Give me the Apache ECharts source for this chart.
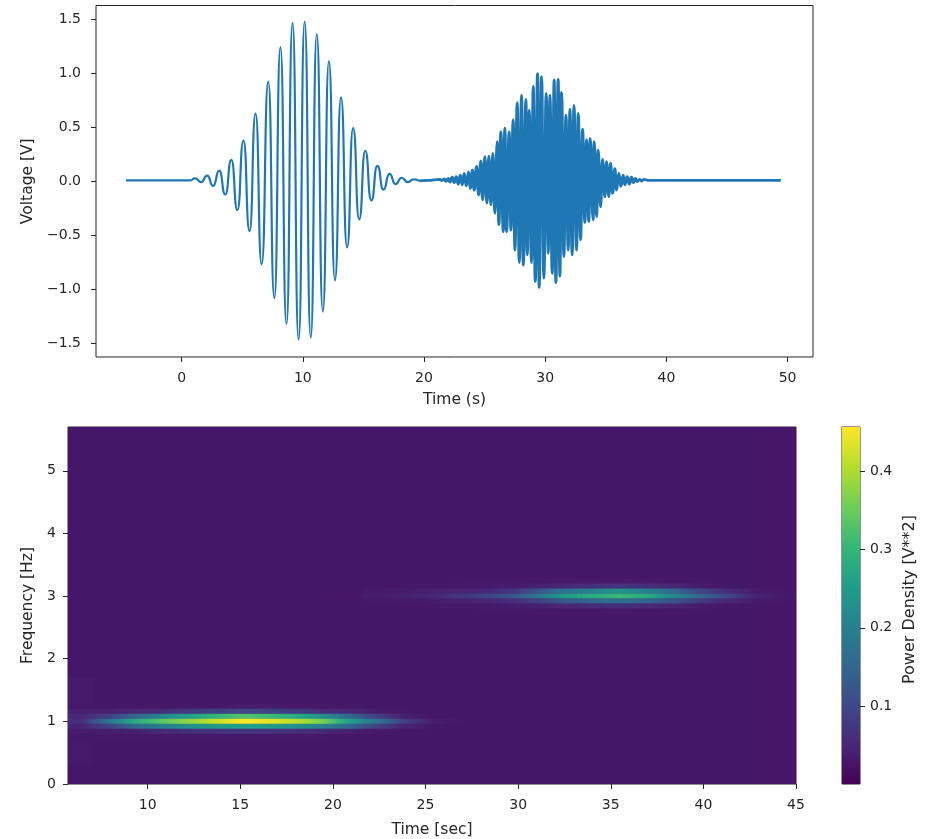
<!DOCTYPE html>
<html><head><meta charset="utf-8">
<style>html,body{margin:0;padding:0;background:#fff}#c{width:930px;height:839px}#c canvas{filter:blur(0.5px)}</style>
<script src="https://cdn.jsdelivr.net/npm/echarts@6/dist/echarts.min.js"></script>
</head><body><div id="c"></div>
<script>
// --- Voltage trace: crests and troughs ---
const leadT = [-4.6, -2, 0, 0.7];
const leadV = [0.005, 0.005, 0.005, 0.005];
const lowBurstT = [1.1,1.6,2.1,2.6,3.1,3.6,4.1,4.6,5.1,5.6,6.1,6.6,7.15,7.65,8.15,8.65,9.15,9.65,10.15,10.65,11.15,11.65,12.15,12.65,13.15,13.65,14.15,14.65,15.15,15.65,16.15,16.65,17.15,17.65,18.15,18.65,19.15,19.6];
const lowBurstV = [.025,-.01,.05,-.045,.095,-.125,.195,-.27,.375,-.465,.625,-.77,.92,-1.085,1.24,-1.325,1.465,-1.47,1.475,-1.45,1.36,-1.21,1.11,-.92,.775,-.615,.49,-.355,.28,-.18,.14,-.08,.065,-.03,.03,-.01,.015,0];
const highBurstT = [19.6,20.3,21.31,21.48,21.67,21.81,22,22.14,22.33,22.49,22.66,22.82,22.99,23.15,23.32,23.48,23.68,23.81,24,24.14,24.34,24.5,24.69,24.83,25.02,25.19,25.35,25.52,25.68,25.85,26.04,26.18,26.34,26.54,26.67,26.81,27.03,27.17,27.36,27.5,27.69,27.86,28.05,28.19,28.41,28.52,28.68,28.87,29.01,29.18,29.37,29.5,29.7,29.89,30.08,30.25,30.39,30.58,30.74,30.88,31.07,31.21,31.35,31.54,31.71,31.9,32.04,32.23,32.37,32.59,32.72,32.92,33.08,33.27,33.41,33.6,33.71,33.96,34.04,34.24,34.37,34.57,34.73,34.92,35.06,35.25,35.39,35.56,35.75,35.89,36.08,36.24,36.44,36.57,36.77,36.93,37.12,37.26,37.45,37.59,37.81,37.95,38.14];
const highBurstV = [0,.005,.015,.003,.02,-.003,.025,-.01,.035,-.015,.04,-.03,.055,-.035,.07,-.045,.085,-.07,.10,-.085,.135,-.13,.185,-.175,.225,-.205,.23,-.22,.255,-.30,.365,-.405,.455,-.47,.49,-.47,.455,-.455,.565,-.64,.725,-.755,.795,-.78,.755,-.685,.655,-.755,.875,-.93,.995,-.985,.965,-.90,.81,-.67,.795,-.855,.935,-.94,.94,-.88,.82,-.70,.61,-.64,.665,-.685,.70,-.64,.625,-.545,.48,-.385,.38,-.375,.395,-.36,.365,-.33,.285,-.24,.20,-.145,.18,-.145,.165,-.115,.115,-.085,.07,-.05,.055,-.035,.04,-.03,.035,-.015,.025,-.006,.015,0,.015];
const tailT = [38.6, 40, 45, 49.45];
const tailV = [0.005, 0.005, 0.005, 0.005];

// --- Spectrogram: power read by colour, per frequency row ---
const backgroundPower = 0.028;
const lowBandTimes = [6.4,7.9,9.3,10.8,12.2,13.7,15.1,16.6,18,19.5,20.9,22.4,23.8,25.3,26.7];
const lowBandFreqs = [1.24,1.16,1.08,1.0,0.92,0.84,0.76];
const lowRow124 = [.03,.03,.03,.03,.03,.03,.035,.035,.03,.03,.03,.03,.028,.028,.028];
const lowRow116 = [.04,.04,.05,.06,.08,.09,.10,.09,.08,.06,.05,.035,.03,.028,.028];
const lowRow108 = [.05,.09,.15,.21,.26,.30,.33,.31,.28,.23,.15,.09,.04,.03,.028];
const lowRow100 = [.06,.18,.28,.34,.38,.42,.455,.44,.41,.36,.26,.18,.09,.04,.03];
const lowRow092 = [.045,.09,.15,.20,.23,.25,.26,.25,.23,.20,.15,.09,.045,.03,.028];
const lowRow084 = [.035,.035,.04,.05,.06,.065,.07,.065,.06,.05,.04,.03,.03,.028,.028];
const lowRow076 = [.03,.03,.03,.03,.03,.03,.03,.03,.03,.03,.028,.028,.028,.028,.028];
const highBandTimes = [22.4,23.8,25.3,26.7,28.2,29.6,31.1,32.5,34,35.4,36.9,38.3,39.8,41.2,42.7,44.1];
const highBandFreqs = [3.24,3.16,3.08,3.0,2.92,2.84,2.76];
const highRow324 = [.028,.028,.028,.03,.03,.03,.03,.032,.032,.032,.032,.03,.03,.028,.028,.028];
const highRow316 = [.028,.03,.03,.03,.032,.035,.04,.05,.06,.07,.06,.05,.035,.03,.028,.028];
const highRow308 = [.032,.035,.04,.045,.05,.07,.12,.18,.20,.24,.20,.16,.10,.06,.035,.03];
const highRow300 = [.035,.04,.05,.07,.09,.12,.18,.25,.28,.31,.28,.22,.15,.10,.05,.032];
const highRow292 = [.03,.032,.035,.04,.045,.06,.09,.13,.15,.17,.15,.12,.08,.05,.035,.03];
const highRow284 = [.028,.028,.03,.03,.032,.035,.04,.05,.055,.06,.055,.045,.035,.03,.03,.028];
const highRow276 = [.028,.028,.028,.028,.03,.03,.03,.03,.03,.032,.03,.03,.03,.028,.028,.028];
// Faint regions: [tStart, tEnd, fStart, fEnd, power]
const faintPatches = [[5.7,7.1,1.28,1.7,.033],[5.7,7.1,0.3,0.72,.031]];

// --- Tick labels ---
const topXTicks = [0,10,20,30,40,50];
const topYTicks = [-1.5,-1,-0.5,0,0.5,1,1.5];
const heatXTicks = [10,15,20,25,30,35,40,45];
const heatYTicks = [0,1,2,3,4,5];
const barTicks = [0.1,0.2,0.3,0.4];
const viridis = ['#440154','#482878','#3e4989','#31688e','#26828e','#1f9e89','#35b779','#6ece58','#b5de2b','#fde725'];
const powerMax = 0.457;

const pair=(ts,vs)=>ts.map((t,i)=>[t,vs[i]]);
const lowTrace = pair(leadT.concat(lowBurstT), leadV.concat(lowBurstV));
const highTrace = pair(highBurstT.concat(tailT), highBurstV.concat(tailV));

const cells = [[5.7,45,0,5.7,backgroundPower,backgroundPower,backgroundPower]]
  .concat(faintPatches.map(p=>[p[0],p[1],p[2],p[3],p[4],p[4],p[4]]));
function addBand(times,freqs,rows){
  freqs.forEach((f,r)=>times.forEach((t,c)=>{
    const row=rows[r], v=row[c];
    const prev=c>0?row[c-1]:v, next=c<row.length-1?row[c+1]:backgroundPower;
    const left=c>0?(times[c-1]+t)/2:t-0.75, right=c<times.length-1?(times[c+1]+t)/2:t+0.75;
    cells.push([left-0.02,right+0.02,f-0.041,f+0.041,v,(v+prev)/2,(v+next)/2]);
  }));
}
addBand(lowBandTimes,lowBandFreqs,[lowRow124,lowRow116,lowRow108,lowRow100,lowRow092,lowRow084,lowRow076]);
addBand(highBandTimes,highBandFreqs,[highRow324,highRow316,highRow308,highRow300,highRow292,highRow284,highRow276]);

const txt='#262626', fs=14, nfs=15.5, ff='"DejaVu Sans"';
const tone=(v)=>echarts.color.lerp(Math.min(1,v/powerMax),viridis);
const lab=(vals,fmt,m)=>({customValues:vals,color:txt,fontSize:fs,fontFamily:ff,margin:m,formatter:fmt});
const tick=(vals)=>({show:true,customValues:vals,length:5,lineStyle:{color:txt,width:1}});
const line={show:false,onZero:false};
const nameS={color:txt,fontSize:nfs,fontFamily:ff};
const minus=(d)=>(v)=>v.toFixed(d).replace('-','\u2212');
const rectItem=(p,api)=>{
  const a=api.coord([api.value(0),api.value(3)]), b=api.coord([api.value(1),api.value(2)]);
  const v=api.value(4), l=api.value(5), r=api.value(6);
  return {type:'rect',shape:{x:a[0],y:a[1],width:b[0]-a[0],height:b[1]-a[1]},
    style:{fill:new echarts.graphic.LinearGradient(0,0,1,0,[{offset:0,color:tone(l)},{offset:0.5,color:tone(v)},{offset:1,color:tone(r)}])}};
};
const chart=echarts.init(document.getElementById('c'),null,{renderer:'canvas'});
chart.setOption({
  animation:false,backgroundColor:'#fff',
  grid:[
    {left:96,top:5.5,width:717,height:351.5,show:true,borderColor:txt,borderWidth:1,outerBoundsMode:'none'},
    {left:68,top:427,width:728,height:357,show:true,borderColor:txt,borderWidth:1,outerBoundsMode:'none'},
    {left:842,top:427,width:18,height:357,show:true,borderColor:txt,borderWidth:1,outerBoundsMode:'none'}
  ],
  xAxis:[
    {gridIndex:0,type:'value',min:-7.07,max:52.1,splitLine:{show:false},axisLine:line,axisTick:tick(topXTicks),axisLabel:lab(topXTicks,minus(0),14),
     name:'Time (s)',nameLocation:'middle',nameGap:35,nameTextStyle:nameS},
    {gridIndex:1,type:'value',min:5.7,max:45,splitLine:{show:false},axisLine:line,axisTick:tick(heatXTicks),axisLabel:lab(heatXTicks,minus(0),14),
     name:'Time [sec]',nameLocation:'middle',nameGap:38,nameTextStyle:nameS},
    {gridIndex:2,type:'value',min:0,max:1,show:false}
  ],
  yAxis:[
    {gridIndex:0,type:'value',min:-1.63,max:1.625,splitLine:{show:false},axisLine:line,axisTick:tick(topYTicks),axisLabel:lab(topYTicks,minus(1),15),
     name:'Voltage [V]',nameLocation:'middle',nameRotate:90,nameGap:60,nameTextStyle:nameS},
    {gridIndex:1,type:'value',min:0,max:5.7,splitLine:{show:false},axisLine:line,axisTick:tick(heatYTicks),axisLabel:lab(heatYTicks,minus(0),12),
     name:'Frequency [Hz]',nameLocation:'middle',nameRotate:90,nameGap:32,nameTextStyle:nameS},
    {gridIndex:2,type:'value',position:'right',min:0,max:powerMax,splitLine:{show:false},axisLine:line,axisTick:tick(barTicks),axisLabel:lab(barTicks,minus(1),10),
     name:'Power Density [V**2]',nameLocation:'middle',nameRotate:90,nameGap:42,
     nameTextStyle:{color:txt,fontSize:16,fontFamily:ff,padding:[0,0,0,12]}}
  ],
  series:[
    {type:'line',xAxisIndex:0,yAxisIndex:0,data:lowTrace,showSymbol:false,smooth:0.6,smoothMonotone:'x',sampling:null,
     lineStyle:{color:'#1f77b4',width:2.2},itemStyle:{color:'#1f77b4'}},
    {type:'custom',xAxisIndex:1,yAxisIndex:1,data:cells,encode:{x:[0,1],y:[2,3]},renderItem:rectItem,clip:true},
    {type:'custom',xAxisIndex:2,yAxisIndex:2,data:[[0,1,0,powerMax]],encode:{x:[0,1],y:[2,3]},clip:true,
     renderItem:(p,api)=>{
       const a=api.coord([api.value(0),api.value(3)]), b=api.coord([api.value(1),api.value(2)]);
       return {type:'rect',shape:{x:a[0],y:a[1],width:b[0]-a[0],height:b[1]-a[1]},
         style:{fill:new echarts.graphic.LinearGradient(0,1,0,0,viridis.map((c,i)=>({offset:i/(viridis.length-1),color:c})))}};
     }},
    {type:'line',xAxisIndex:0,yAxisIndex:0,data:highTrace,showSymbol:false,smooth:0.6,smoothMonotone:'x',sampling:null,
     lineStyle:{color:'#1f77b4',width:2.8},itemStyle:{color:'#1f77b4'}}
  ]
});
</script></body></html>
